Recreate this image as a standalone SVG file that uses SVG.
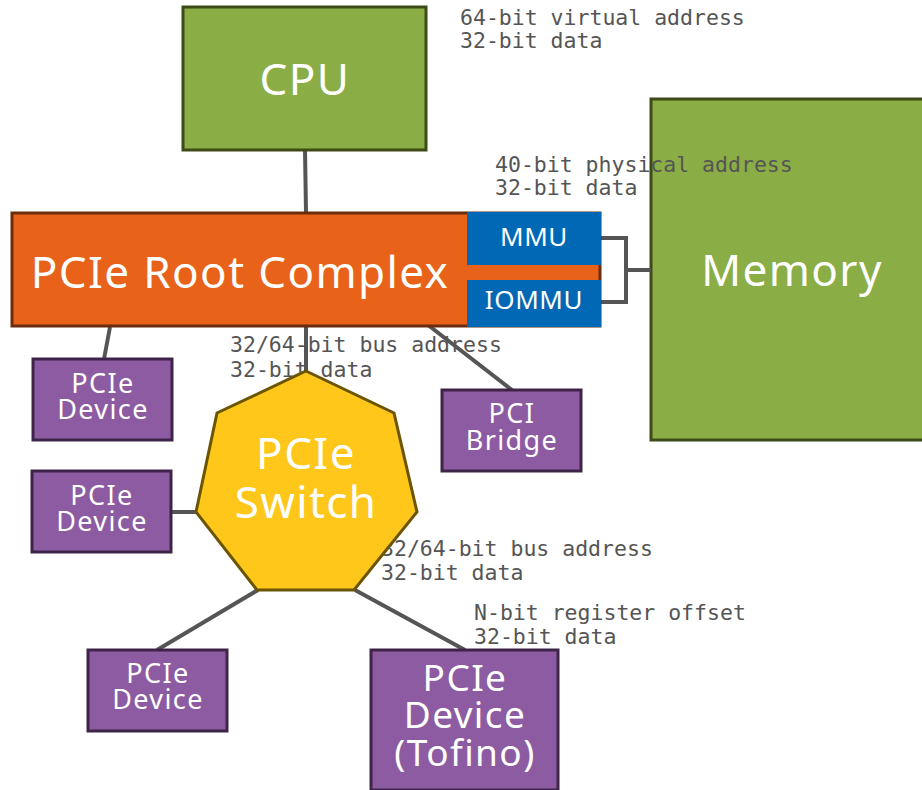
<svg xmlns="http://www.w3.org/2000/svg" width="922" height="790" viewBox="0 0 922 790">
  <style>
    .lbl { font-family: "DejaVu Sans Mono", "Liberation Mono", monospace; font-size: 21.5px; fill: #555555; }
    .big { font-family: "Noto Sans", "Open Sans", sans-serif; fill: #ffffff; text-anchor: middle; letter-spacing: 1.4px; }
    .green { fill: #8aad46; stroke: #3d4b16; stroke-width: 3; }
    .purple { fill: #8c5ba1; stroke: #3f2449; stroke-width: 3; }
    .blue { fill: #0068b5; }
    .wire { stroke: #555555; stroke-width: 4; fill: none; }
  </style>
  <rect width="922" height="790" fill="#ffffff"/>

  <g id="memory">
    <rect class="green" x="651" y="99" width="280" height="341"/>
    <text class="big" x="792" y="286" font-size="44">Memory</text>
  </g>

  <g id="labels">
    <text class="lbl" x="460" y="25">64-bit virtual address</text>
    <text class="lbl" x="460" y="48">32-bit data</text>
    <text class="lbl" x="495" y="172">40-bit physical address</text>
    <text class="lbl" x="495" y="195">32-bit data</text>
    <text class="lbl" x="230" y="352">32/64-bit bus address</text>
    <text class="lbl" x="230" y="377">32-bit data</text>
    <text class="lbl" x="381" y="556">32/64-bit bus address</text>
    <text class="lbl" x="381" y="580">32-bit data</text>
    <text class="lbl" x="474" y="620">N-bit register offset</text>
    <text class="lbl" x="474" y="644">32-bit data</text>
  </g>

  <g id="connectors">
    <line class="wire" x1="305" y1="150" x2="306" y2="212"/>
    <line class="wire" x1="306" y1="327" x2="306" y2="372"/>
    <line class="wire" x1="110" y1="327" x2="104" y2="359"/>
    <line class="wire" x1="428" y1="325" x2="512" y2="390"/>
    <polyline class="wire" points="600,238 626,238 626,302 600,302"/>
    <line class="wire" x1="626" y1="270" x2="651" y2="270"/>
    <line class="wire" x1="171" y1="512" x2="197" y2="512"/>
    <line class="wire" x1="258" y1="590" x2="157" y2="650"/>
    <line class="wire" x1="355" y1="590" x2="465" y2="650"/>
  </g>

  <g id="cpu">
    <rect class="green" x="183" y="7" width="243" height="143"/>
    <text class="big" x="305" y="95" font-size="44">CPU</text>
  </g>

  <g id="root-complex">
    <rect x="12" y="213" width="588" height="113" fill="#e8621a" stroke="#6b2d0c" stroke-width="3"/>
    <text class="big" x="240" y="288" font-size="44">PCIe Root Complex</text>
  </g>

  <g id="mmu">
    <rect class="blue" x="467" y="212" width="134" height="53"/>
    <text class="big" x="534" y="246" font-size="26" style="letter-spacing:0.6px">MMU</text>
  </g>

  <g id="iommu">
    <rect class="blue" x="467" y="280" width="134" height="47"/>
    <text class="big" x="534" y="309" font-size="26" style="letter-spacing:0.6px">IOMMU</text>
  </g>

  <g id="pcie-switch">
    <polygon points="306,371 394,413 417,512 354,590 257,590 196,512 217,413" fill="#fec71a" stroke="#6b5500" stroke-width="3"/>
    <text class="big" x="306" y="469" font-size="44">PCIe</text>
    <text class="big" x="306" y="518" font-size="44">Switch</text>
  </g>

  <g id="pcie-device-1">
    <rect class="purple" x="33" y="359" width="139" height="81"/>
    <text class="big" x="103" y="393" font-size="27">PCIe</text>
    <text class="big" x="103" y="419" font-size="27">Device</text>
  </g>

  <g id="pcie-device-2">
    <rect class="purple" x="32" y="471" width="139" height="81"/>
    <text class="big" x="102" y="505" font-size="27">PCIe</text>
    <text class="big" x="102" y="531" font-size="27">Device</text>
  </g>

  <g id="pci-bridge">
    <rect class="purple" x="442" y="390" width="139" height="81"/>
    <text class="big" x="512" y="423" font-size="27">PCI</text>
    <text class="big" x="512" y="450" font-size="27">Bridge</text>
  </g>

  <g id="pcie-device-3">
    <rect class="purple" x="88" y="650" width="139" height="81"/>
    <text class="big" x="158" y="683" font-size="27">PCIe</text>
    <text class="big" x="158" y="709" font-size="27">Device</text>
  </g>

  <g id="pcie-device-tofino">
    <rect class="purple" x="371" y="650" width="187" height="140"/>
    <text class="big" x="465" y="691" font-size="37">PCIe</text>
    <text class="big" x="465" y="728" font-size="37">Device</text>
    <text class="big" x="465" y="766" font-size="37">(Tofino)</text>
  </g>
</svg>
